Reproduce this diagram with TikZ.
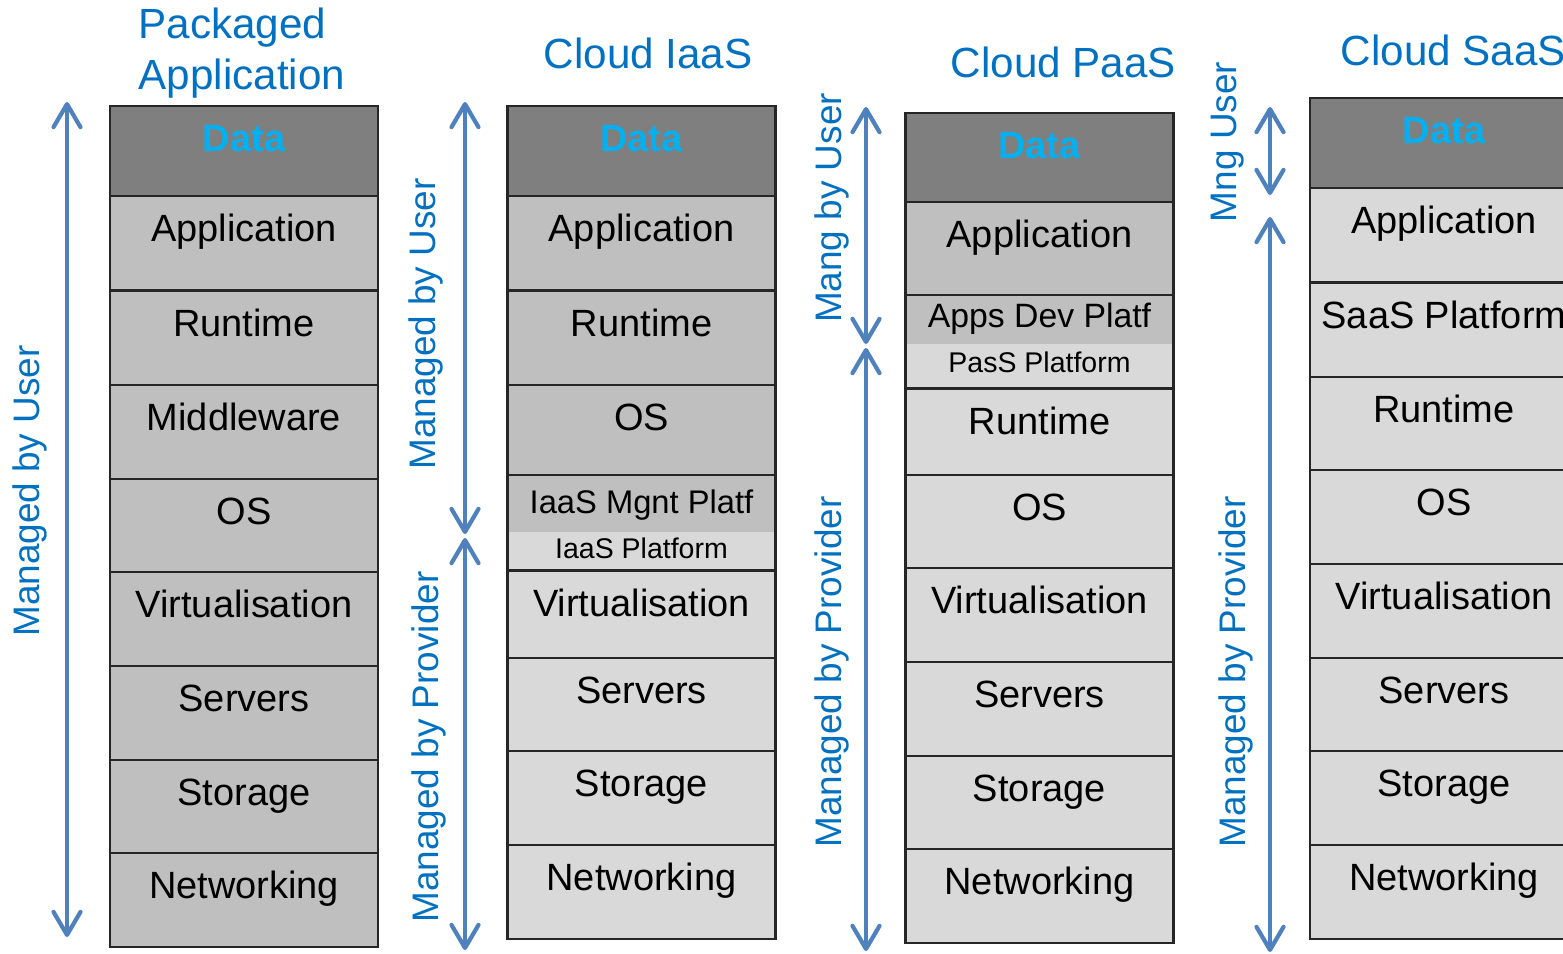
\documentclass[tikz,border=0pt]{standalone}
\usepackage{fontspec}
\setmainfont{Liberation Sans}
\usepackage{tikz}
\usetikzlibrary{arrows.meta, calc, fit, positioning}
\definecolor{datagray}{HTML}{7F7F7F}
\definecolor{usergray}{HTML}{BFBFBF}
\definecolor{provgray}{HTML}{D9D9D9}
\definecolor{headblue}{HTML}{0070C0}
\definecolor{datablue}{HTML}{00B0F0}
\definecolor{arrowblue}{HTML}{4F81BD}
\definecolor{edgegray}{HTML}{262626}

\begin{document}
\begin{tikzpicture}[x=0.01cm, y=-0.01cm,
	stackbox/.style={draw=edgegray, line width=0.65pt, minimum width=2.68cm, inner sep=0pt, anchor=north, text height=0.455cm, text depth=0.485cm, font=\fontsize{10.8}{13}\selectfont},
	databox/.style={stackbox, fill=datagray, text=datablue, font=\fontsize{10.8}{13}\selectfont\bfseries},
	thinbox/.style={minimum width=2.68cm, inner sep=0pt, outer sep=0pt, anchor=north},
	framebox/.style={draw=edgegray, line width=0.65pt, inner sep=0pt},
	headlabel/.style={text=headblue, inner sep=0pt, font=\fontsize{12}{14.5}\selectfont},
	sidelabel/.style={text=headblue, inner sep=0pt, rotate=90, font=\fontsize{10.5}{12}\selectfont},
	mgarrow/.style={draw=arrowblue, line width=1.2pt, {Straight Barb[length=2.3mm, width=2.7mm, round]}-{Straight Barb[length=2.3mm, width=2.7mm, round]}}]
	\useasboundingbox (0,0) rectangle (1563,953);
	\clip (0,0) rectangle (1563,953);
	
	\coordinate (pk-top) at (67,102);
	\coordinate (pk-bot) at (67,937);
	\coordinate (ia-top) at (465,102);
	\coordinate (ia-cut1) at (465,534);
	\coordinate (ia-cut2) at (465,538);
	\coordinate (ia-bot) at (465,950);
	\coordinate (pa-top) at (866,107);
	\coordinate (pa-cut1) at (866,344);
	\coordinate (pa-cut2) at (866,348);
	\coordinate (pa-bot) at (866,951);
	\coordinate (sa-top) at (1270,107);
	\coordinate (sa-cut1) at (1270,195);
	\coordinate (sa-cut2) at (1270,217);
	\coordinate (sa-bot) at (1270,952);
	
	\node[headlabel, align=left, anchor=north west] (pk-head) at (138,7) {Packaged\\Application};
	\node[headlabel, anchor=base west] (ia-head) at (543,68) {Cloud IaaS};
	\node[headlabel, anchor=base west] (pa-head) at (950,77) {Cloud PaaS};
	\node[headlabel, anchor=base west] (sa-head) at (1340,65) {Cloud SaaS};
	
	\node[databox] (pk-data) at (244,105) {Data};
	\node[stackbox, fill=usergray] (pk-app) at (244,195) {Application};
	\node[stackbox, fill=usergray] (pk-run) at (244,290) {Runtime};
	\node[stackbox, fill=usergray] (pk-mid) at (244,384) {Middleware};
	\node[stackbox, fill=usergray] (pk-os) at (244,478) {OS};
	\node[stackbox, fill=usergray] (pk-virt) at (244,571) {Virtualisation};
	\node[stackbox, fill=usergray] (pk-srv) at (244,665) {Servers};
	\node[stackbox, fill=usergray] (pk-sto) at (244,759) {Storage};
	\node[stackbox, fill=usergray] (pk-net) at (244,852) {Networking};
	
	\node[databox] (ia-data) at (641.5,105) {Data};
	\node[stackbox, fill=usergray] (ia-app) at (641.5,195) {Application};
	\node[stackbox, fill=usergray] (ia-run) at (641.5,290) {Runtime};
	\node[stackbox, fill=usergray] (ia-os) at (641.5,384) {OS};
	\node[thinbox, fill=usergray, text height=0.38cm, text depth=0.19cm, font=\fontsize{9.3}{11}\selectfont] (ia-mgnt) at (641.5,475) {IaaS Mgnt Platf};
	\node[thinbox, fill=provgray, text height=0.26cm, text depth=0.12cm, font=\fontsize{8.1}{10}\selectfont] (ia-plat) at (641.5,532) {IaaS Platform};
	\node[framebox, fit=(ia-mgnt)(ia-plat)] (ia-frame) {};
	\node[stackbox, fill=provgray] (ia-virt) at (641.5,570) {Virtualisation};
	\node[stackbox, fill=provgray] (ia-srv) at (641.5,657) {Servers};
	\node[stackbox, fill=provgray] (ia-sto) at (641.5,750) {Storage};
	\node[stackbox, fill=provgray] (ia-net) at (641.5,844) {Networking};
	
	\node[databox] (pa-data) at (1039.5,112) {Data};
	\node[stackbox, fill=usergray] (pa-app) at (1039.5,201) {Application};
	\node[thinbox, fill=usergray, text height=0.32cm, text depth=0.17cm, font=\fontsize{9.6}{11}\selectfont] (pa-dev) at (1039.5,295) {Apps Dev Platf};
	\node[thinbox, fill=provgray, text height=0.28cm, text depth=0.16cm, font=\fontsize{8.1}{10}\selectfont] (pa-plat) at (1039.5,344) {PasS Platform};
	\node[framebox, fit=(pa-dev)(pa-plat)] (pa-frame) {};
	\node[stackbox, fill=provgray] (pa-run) at (1039.5,388) {Runtime};
	\node[stackbox, fill=provgray] (pa-os) at (1039.5,474) {OS};
	\node[stackbox, fill=provgray] (pa-virt) at (1039.5,567) {Virtualisation};
	\node[stackbox, fill=provgray] (pa-srv) at (1039.5,661) {Servers};
	\node[stackbox, fill=provgray] (pa-sto) at (1039.5,755) {Storage};
	\node[stackbox, fill=provgray] (pa-net) at (1039.5,848) {Networking};
	
	\node[databox] (sa-data) at (1444,97) {Data};
	\node[stackbox, fill=provgray] (sa-app) at (1444,187) {Application};
	\node[stackbox, fill=provgray] (sa-plat) at (1444,282) {SaaS Platform};
	\node[stackbox, fill=provgray] (sa-run) at (1444,376) {Runtime};
	\node[stackbox, fill=provgray] (sa-os) at (1444,469) {OS};
	\node[stackbox, fill=provgray] (sa-virt) at (1444,563) {Virtualisation};
	\node[stackbox, fill=provgray] (sa-srv) at (1444,657) {Servers};
	\node[stackbox, fill=provgray] (sa-sto) at (1444,750) {Storage};
	\node[stackbox, fill=provgray] (sa-net) at (1444,844) {Networking};
	
	\node[sidelabel] (pk-user) at (30,491) {Managed by User};
	\node[sidelabel] (ia-user) at (426,324) {Managed by User};
	\node[sidelabel] (ia-prov) at (429,747) {Managed by Provider};
	\node[sidelabel] (pa-user) at (832,208) {Mang by User};
	\node[sidelabel] (pa-prov) at (832,672) {Managed by Provider};
	\node[sidelabel] (sa-user) at (1228,142) {Mng User};
	\node[sidelabel] (sa-prov) at (1236,672) {Managed by Provider};
	
	\draw[mgarrow] (pk-top) -- (pk-bot);
	\draw[mgarrow] (ia-top) -- (ia-cut1);
	\draw[mgarrow] (ia-cut2) -- (ia-bot);
	\draw[mgarrow] (pa-top) -- (pa-cut1);
	\draw[mgarrow] (pa-cut2) -- (pa-bot);
	\draw[mgarrow] (sa-top) -- (sa-cut1);
	\draw[mgarrow] (sa-cut2) -- (sa-bot);
\end{tikzpicture}
\end{document}
